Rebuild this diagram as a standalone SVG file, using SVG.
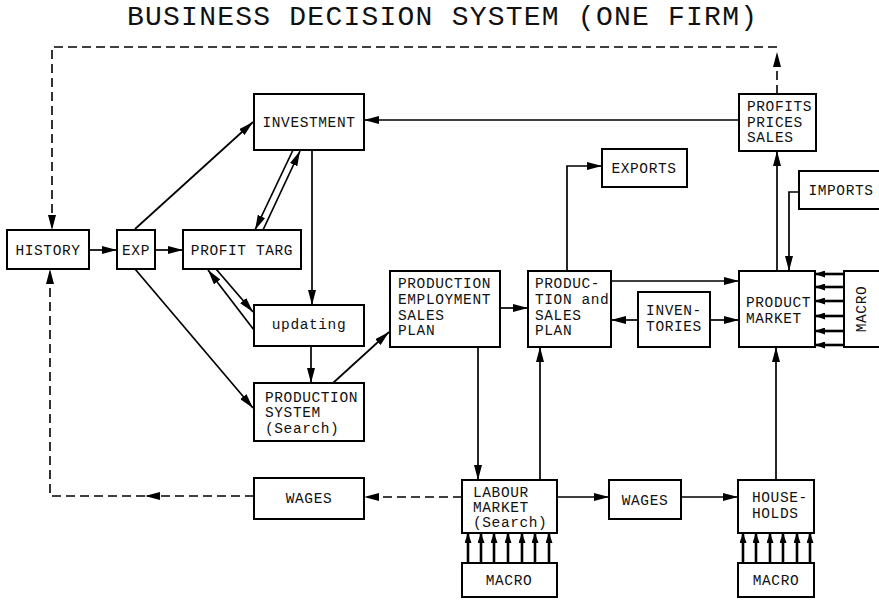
<svg xmlns="http://www.w3.org/2000/svg" width="879" height="600" viewBox="0 0 879 600">
<style>
.box{fill:#fff;stroke:#000;stroke-width:2}
.t{font-family:"Liberation Mono","Courier New",monospace;font-size:14.5px;letter-spacing:0.6px;fill:#111}
.c{text-anchor:middle}
.ln{fill:none;stroke:#000;stroke-width:1.7}
.d{fill:none;stroke:#000;stroke-width:1.6;stroke-dasharray:9,5}
.m{fill:none;stroke:#000;stroke-width:2.6}
</style>
<defs>
<marker id="a" viewBox="0 0 15 8" refX="15" refY="4" markerWidth="15" markerHeight="8" orient="auto" markerUnits="userSpaceOnUse"><path d="M0,0 L15,4 L0,8 Z" fill="#000"/></marker>
<marker id="s" viewBox="0 0 10 7" refX="10" refY="3.5" markerWidth="10" markerHeight="7" orient="auto" markerUnits="userSpaceOnUse"><path d="M0,0 L10,3.5 L0,7 Z" fill="#000"/></marker>
</defs>
<rect width="879" height="600" fill="#fff"/>
<text x="442" y="25" class="t c" style="font-size:28px;letter-spacing:0" textLength="630" lengthAdjust="spacing">BUSINESS DECISION SYSTEM (ONE FIRM)</text>

<g id="connectors">
<path class="d" d="M777,94 V52" marker-end="url(#a)"/>
<path class="d" d="M777,47 H52 V230" marker-end="url(#a)"/>
<path class="d" d="M462,497 H364" marker-end="url(#a)"/>
<path class="d" d="M254,496 H145" marker-end="url(#a)"/>
<path class="d" d="M145,496 H50 V269" marker-end="url(#a)"/>
<path class="ln" d="M89,250 H117" marker-end="url(#a)"/>
<path class="ln" d="M155,250 H183" marker-end="url(#a)"/>
<path class="ln" d="M135,229 L253,122" marker-end="url(#a)"/>
<path class="ln" d="M135,269 L253,408" marker-end="url(#a)"/>
<path class="ln" d="M293,150 L255,230" marker-end="url(#a)"/>
<path class="ln" d="M263,230 L300,151" marker-end="url(#a)"/>
<path class="ln" d="M254,330 L208,270" marker-end="url(#a)"/>
<path class="ln" d="M216,269 L253,312" marker-end="url(#a)"/>
<path class="ln" d="M312,150 V305" marker-end="url(#a)"/>
<path class="ln" d="M311,346 V383" marker-end="url(#a)"/>
<path class="ln" d="M333,383 L389,332" marker-end="url(#a)"/>
<path class="ln" d="M500,308 H528" marker-end="url(#a)"/>
<path class="ln" d="M478,347 V480" marker-end="url(#a)"/>
<path class="ln" d="M540,480 V347" marker-end="url(#a)"/>
<path class="ln" d="M567,271 V166 H602" marker-end="url(#a)"/>
<path class="ln" d="M611,281 H739" marker-end="url(#a)"/>
<path class="ln" d="M638,320 H611" marker-end="url(#a)"/>
<path class="ln" d="M710,320 H739" marker-end="url(#a)"/>
<path class="ln" d="M777,271 V151" marker-end="url(#a)"/>
<path class="ln" d="M739,120 H364" marker-end="url(#a)"/>
<path class="ln" d="M799,192 H789 V271" marker-end="url(#a)"/>
<path class="ln" d="M557,497 H609" marker-end="url(#a)"/>
<path class="ln" d="M681,497 H738" marker-end="url(#a)"/>
<path class="ln" d="M776,480 V347" marker-end="url(#a)"/>
<path class="m" d="M844,274 H815" marker-end="url(#s)"/>
<path class="m" d="M844,287 H815" marker-end="url(#s)"/>
<path class="m" d="M844,301 H815" marker-end="url(#s)"/>
<path class="m" d="M844,316 H815" marker-end="url(#s)"/>
<path class="m" d="M844,331 H815" marker-end="url(#s)"/>
<path class="m" d="M844,345 H815" marker-end="url(#s)"/>
<path class="m" d="M468,563 V533" marker-end="url(#s)"/>
<path class="m" d="M481,563 V533" marker-end="url(#s)"/>
<path class="m" d="M494,563 V533" marker-end="url(#s)"/>
<path class="m" d="M508,563 V533" marker-end="url(#s)"/>
<path class="m" d="M522,563 V533" marker-end="url(#s)"/>
<path class="m" d="M535,563 V533" marker-end="url(#s)"/>
<path class="m" d="M549,563 V533" marker-end="url(#s)"/>
<path class="m" d="M743,563 V533" marker-end="url(#s)"/>
<path class="m" d="M756,563 V533" marker-end="url(#s)"/>
<path class="m" d="M770,563 V533" marker-end="url(#s)"/>
<path class="m" d="M783,563 V533" marker-end="url(#s)"/>
<path class="m" d="M797,563 V533" marker-end="url(#s)"/>
<path class="m" d="M810,563 V533" marker-end="url(#s)"/>
</g>

<g id="history"><rect class="box" x="7" y="230" width="82" height="39"/><text class="t c" x="48" y="255">HISTORY</text></g>
<g id="exp"><rect class="box" x="117" y="230" width="38" height="39"/><text class="t c" x="136" y="255">EXP</text></g>
<g id="profit-targ"><rect class="box" x="183" y="230" width="118" height="39"/><text class="t c" x="242" y="255">PROFIT TARG</text></g>
<g id="investment"><rect class="box" x="254" y="94" width="110" height="56"/><text class="t c" x="309" y="127">INVESTMENT</text></g>
<g id="updating"><rect class="box" x="254" y="305" width="110" height="41"/><text class="t c" x="309" y="329">updating</text></g>
<g id="production-system"><rect class="box" x="254" y="383" width="110" height="58"/><text class="t" x="265" y="402">PRODUCTION</text><text class="t" x="265" y="417">SYSTEM</text><text class="t" x="265" y="433">(Search)</text></g>
<g id="wages-left"><rect class="box" x="254" y="478" width="110" height="41"/><text class="t c" x="309" y="503">WAGES</text></g>
<g id="pes-plan"><rect class="box" x="390" y="271" width="110" height="76"/><text class="t" x="398" y="288">PRODUCTION</text><text class="t" x="398" y="304">EMPLOYMENT</text><text class="t" x="398" y="320">SALES</text><text class="t" x="398" y="335">PLAN</text></g>
<g id="ps-plan"><rect class="box" x="528" y="271" width="83" height="76"/><text class="t" x="535" y="288">PRODUC-</text><text class="t" x="535" y="304">TION and</text><text class="t" x="535" y="320">SALES</text><text class="t" x="535" y="335">PLAN</text></g>
<g id="exports"><rect class="box" x="602" y="149" width="85" height="38"/><text class="t c" x="644" y="173">EXPORTS</text></g>
<g id="profits"><rect class="box" x="739" y="94" width="77" height="57"/><text class="t" x="747" y="111">PROFITS</text><text class="t" x="747" y="127">PRICES</text><text class="t" x="747" y="142">SALES</text></g>
<g id="imports"><rect class="box" x="799" y="171" width="82" height="38"/><text class="t c" x="841" y="195">IMPORTS</text></g>
<g id="inventories"><rect class="box" x="638" y="292" width="72" height="55"/><text class="t c" x="674" y="315">INVEN-</text><text class="t c" x="674" y="331">TORIES</text></g>
<g id="product-market"><rect class="box" x="739" y="271" width="76" height="76"/><text class="t" x="746" y="307">PRODUCT</text><text class="t" x="746" y="323">MARKET</text></g>
<g id="macro-right"><rect class="box" x="844" y="271" width="37" height="76"/><text class="t c" transform="translate(866,309) rotate(-90)" x="0" y="0">MACRO</text></g>
<g id="labour-market"><rect class="box" x="462" y="480" width="95" height="53"/><text class="t" x="473" y="497">LABOUR</text><text class="t" x="473" y="512">MARKET</text><text class="t" x="473" y="527">(Search)</text></g>
<g id="wages-mid"><rect class="box" x="609" y="480" width="72" height="39"/><text class="t c" x="645" y="505">WAGES</text></g>
<g id="households"><rect class="box" x="738" y="480" width="76" height="53"/><text class="t" x="752" y="502">HOUSE-</text><text class="t" x="752" y="518">HOLDS</text></g>
<g id="macro-labour"><rect class="box" x="462" y="563" width="95" height="34"/><text class="t c" x="509" y="585">MACRO</text></g>
<g id="macro-households"><rect class="box" x="738" y="563" width="76" height="34"/><text class="t c" x="776" y="585">MACRO</text></g>
</svg>
